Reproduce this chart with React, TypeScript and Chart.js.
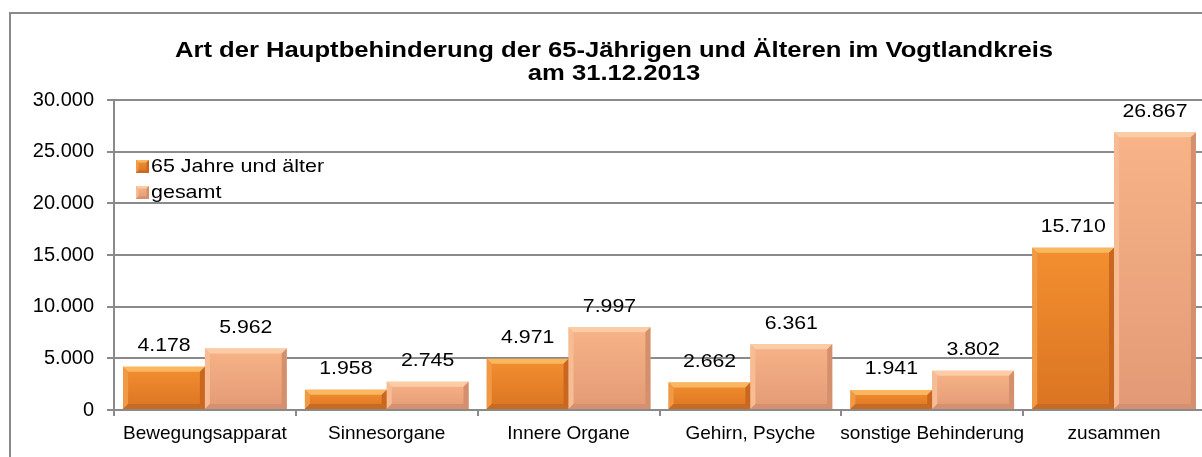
import { useEffect, useRef } from 'react';
import { Chart, registerables } from 'chart.js';

Chart.register(...registerables);

const categories = [
  'Bewegungsapparat',
  'Sinnesorgane',
  'Innere Organe',
  'Gehirn, Psyche',
  'sonstige Behinderung',
  'zusammen',
];
const seniorValues = [4178, 1958, 4971, 2662, 1941, 15710];
const totalValues = [5962, 2745, 7997, 6361, 3802, 26867];
const seriesNames = ['65 Jahre und älter', 'gesamt'];
const titleLines = [
  'Art der Hauptbehinderung der 65-Jährigen und Älteren im Vogtlandkreis',
  'am 31.12.2013',
];
const yMax = 30000;
const yStep = 5000;

const FONT = "'Liberation Sans', Arial, sans-serif";

const palettes = [
  {
    faceTop: '#F38F30',
    faceBottom: '#DA7422',
    bevTop: '#F9B860',
    bevLeft: '#F09A46',
    bevRight: '#C9661F',
    bevBottom: '#C86A22',
  },
  {
    faceTop: '#F8B387',
    faceBottom: '#E29A76',
    bevTop: '#FBCCA6',
    bevLeft: '#F7BC94',
    bevRight: '#D48F6C',
    bevBottom: '#D49070',
  },
];

const fmt = (v: number) =>
  String(Math.round(v)).replace(/\B(?=(\d{3})+(?!\d))/g, '.');

function stretchedText(
  ctx: CanvasRenderingContext2D,
  text: string,
  x: number,
  y: number,
  sx: number,
  align: CanvasTextAlign
) {
  ctx.save();
  ctx.translate(x, y);
  ctx.scale(sx, 1);
  ctx.textAlign = align;
  ctx.textBaseline = 'alphabetic';
  ctx.fillText(text, 0, 0);
  ctx.restore();
}

function drawBevel(
  ctx: CanvasRenderingContext2D,
  left: number,
  top: number,
  right: number,
  bottom: number,
  b: number,
  p: (typeof palettes)[number]
) {
  const poly = (pts: number[][], color: string) => {
    ctx.beginPath();
    ctx.moveTo(pts[0][0], pts[0][1]);
    for (let i = 1; i < pts.length; i++) ctx.lineTo(pts[i][0], pts[i][1]);
    ctx.closePath();
    ctx.fillStyle = color;
    ctx.fill();
  };
  poly(
    [
      [left, top],
      [right, top],
      [right - b, top + b],
      [left + b, top + b],
    ],
    p.bevTop
  );
  poly(
    [
      [left, top],
      [left + b, top + b],
      [left + b, bottom - b],
      [left, bottom],
    ],
    p.bevLeft
  );
  poly(
    [
      [right, top],
      [right, bottom],
      [right - b, bottom - b],
      [right - b, top + b],
    ],
    p.bevRight
  );
  poly(
    [
      [left, bottom],
      [left + b, bottom - b],
      [right - b, bottom - b],
      [right, bottom],
    ],
    p.bevBottom
  );
}

const framePlugin = {
  id: 'frame',
  beforeDraw(chart: any) {
    const ctx: CanvasRenderingContext2D = chart.ctx;
    ctx.save();
    ctx.fillStyle = '#ffffff';
    ctx.fillRect(0, 0, chart.width, chart.height);
    ctx.strokeStyle = '#8a8a8a';
    ctx.lineWidth = 2;
    ctx.strokeRect(10, 13, chart.width + 20, chart.height + 20);
    ctx.restore();
  },
};

const bevelPlugin = {
  id: 'bevel',
  afterDatasetsDraw(chart: any) {
    const ctx: CanvasRenderingContext2D = chart.ctx;
    ctx.save();
    chart.data.datasets.forEach((_ds: any, di: number) => {
      const meta = chart.getDatasetMeta(di);
      meta.data.forEach((el: any) => {
        const { x, y, base, width } = el.getProps(['x', 'y', 'base', 'width'], true);
        const left = x - width / 2;
        const right = x + width / 2;
        const top = Math.min(y, base);
        const bottom = Math.max(y, base);
        const b = Math.min(5, (bottom - top) / 3);
        drawBevel(ctx, left, top, right, bottom, b, palettes[di]);
      });
    });
    ctx.restore();
  },
};

const textPlugin = {
  id: 'texts',
  afterDraw(chart: any) {
    const ctx: CanvasRenderingContext2D = chart.ctx;
    ctx.save();
    ctx.fillStyle = '#000000';

    // title
    ctx.font = `bold 22px ${FONT}`;
    stretchedText(ctx, titleLines[0], 614, 57, 1.165, 'center');
    stretchedText(ctx, titleLines[1], 614, 80, 1.165, 'center');

    // value labels
    ctx.font = `19px ${FONT}`;
    chart.data.datasets.forEach((ds: any, di: number) => {
      const meta = chart.getDatasetMeta(di);
      meta.data.forEach((el: any, i: number) => {
        const { x, y } = el.getProps(['x', 'y'], true);
        stretchedText(ctx, fmt(ds.data[i]), x, y - 15.5, 1.12, 'center');
      });
    });

    // legend
    const rows = [172, 198];
    rows.forEach((by, i) => {
      const p = palettes[i];
      const bx = 136;
      const bt = by - 12;
      const g = ctx.createLinearGradient(0, bt, 0, bt + 13);
      g.addColorStop(0, p.faceTop);
      g.addColorStop(1, p.faceBottom);
      ctx.fillStyle = g;
      ctx.fillRect(bx, bt, 13, 13);
      drawBevel(ctx, bx, bt, bx + 13, bt + 13, 2.5, p);
      ctx.fillStyle = '#000000';
      ctx.font = `19px ${FONT}`;
      stretchedText(ctx, seriesNames[i], 151, by, 1.13, 'left');
    });
    ctx.restore();
  },
};

function faceColor(di: number) {
  return (c: any) => {
    const p = palettes[di];
    const chart = c.chart;
    if (c.type !== 'data' || !chart.chartArea || !chart.scales || !chart.scales.y) {
      return p.faceTop;
    }
    const ys = chart.scales.y;
    const top = ys.getPixelForValue(c.raw);
    const bottom = ys.getPixelForValue(0);
    if (!isFinite(top) || !isFinite(bottom) || top === bottom) return p.faceTop;
    const g = chart.ctx.createLinearGradient(0, top, 0, bottom);
    g.addColorStop(0, p.faceTop);
    g.addColorStop(1, p.faceBottom);
    return g;
  };
}

export default function App() {
  const ref = useRef<HTMLCanvasElement>(null);

  useEffect(() => {
    const canvas = ref.current;
    if (!canvas) return;
    const chart = new Chart(canvas, {
      type: 'bar',
      data: {
        labels: categories,
        datasets: [
          {
            label: seriesNames[0],
            data: seniorValues,
            backgroundColor: faceColor(0),
            borderWidth: 0,
            categoryPercentage: 0.9,
            barPercentage: 1.0,
          },
          {
            label: seriesNames[1],
            data: totalValues,
            backgroundColor: faceColor(1),
            borderWidth: 0,
            categoryPercentage: 0.9,
            barPercentage: 1.0,
          },
        ],
      },
      options: {
        responsive: false,
        animation: false,
        devicePixelRatio: 1,
        layout: { padding: { left: 0, right: 7, top: 100, bottom: 0 } },
        plugins: {
          legend: { display: false },
          title: { display: false },
          tooltip: { enabled: false },
        },
        scales: {
          x: {
            offset: true,
            grid: {
              display: true,
              offset: true,
              drawOnChartArea: false,
              drawTicks: true,
              tickLength: 6,
              color: '#8a8a8a',
              lineWidth: 2,
            },
            border: { display: true, color: '#8a8a8a', width: 2 },
            ticks: {
              color: '#000000',
              font: { family: FONT, size: 19 },
              padding: 6,
              maxRotation: 0,
              autoSkip: false,
            },
            afterFit: (scale: any) => {
              scale.height = 47;
            },
          },
          y: {
            min: 0,
            max: yMax,
            ticks: {
              stepSize: yStep,
              color: '#000000',
              font: { family: FONT, size: 20 },
              padding: 13,
              callback: (v: any) => fmt(Number(v)),
            },
            grid: {
              color: '#8a8a8a',
              lineWidth: 2,
              tickLength: 7,
            },
            border: { display: true, color: '#8a8a8a', width: 2 },
            afterFit: (scale: any) => {
              scale.width = 114;
            },
          },
        },
      },
      plugins: [framePlugin, bevelPlugin, textPlugin],
    });
    return () => chart.destroy();
  }, []);

  return (
    <div
      style={{
        position: 'fixed',
        left: 0,
        top: 0,
        width: 1202,
        height: 457,
        overflow: 'hidden',
        background: '#ffffff',
      }}
    >
      <canvas ref={ref} width={1212} height={457} style={{ display: 'block' }} />
    </div>
  );
}
